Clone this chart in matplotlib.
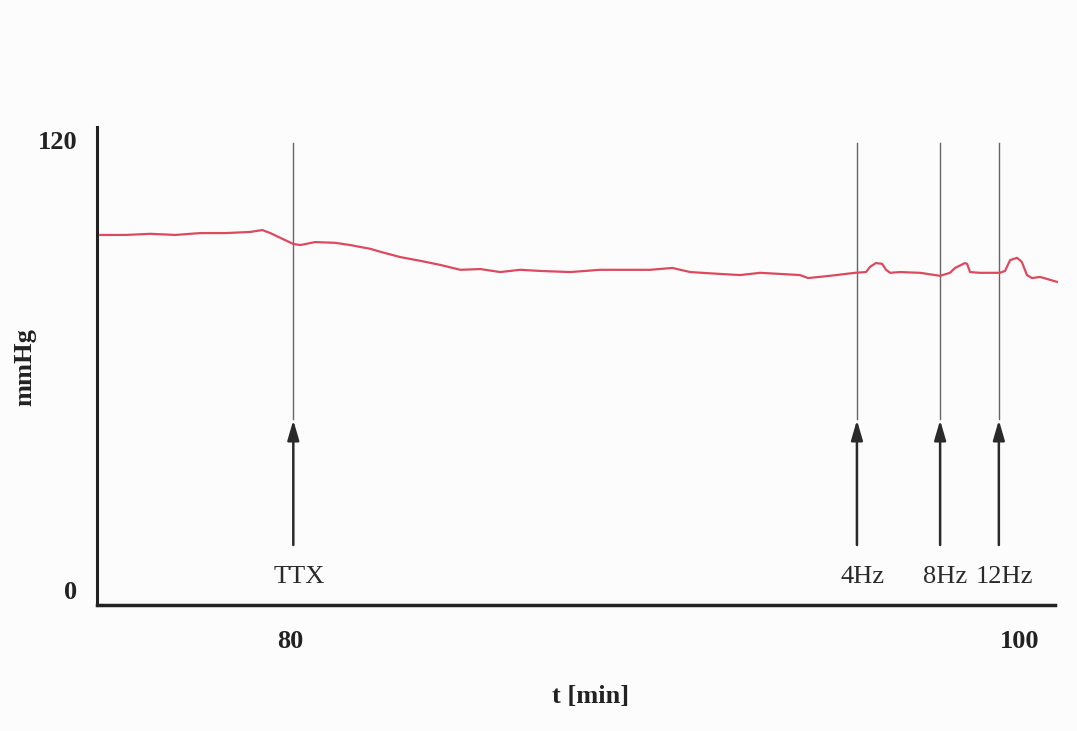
import matplotlib.pyplot as plt

# pressure trace (t in min, pressure in mmHg)
t = [74.79, 75.48, 76.16, 76.85, 77.53, 78.22, 78.90, 79.23, 79.45, 79.73,
     80.08, 80.27, 80.68, 81.23, 81.64, 82.19, 82.47, 83.01, 83.56, 84.11,
     84.66, 85.21, 85.75, 86.30, 86.85, 87.67, 88.49, 89.86, 90.47, 90.96,
     91.78, 92.33, 92.88, 93.97, 94.19, 94.79, 95.48, 95.78, 95.89, 96.05,
     96.22, 96.33, 96.44, 96.71, 97.26, 97.81, 98.08, 98.22, 98.49, 98.55,
     98.63, 98.90, 99.45, 99.59, 99.73, 99.92, 100.05, 100.19, 100.33, 100.55,
     101.01]
p = [94.7, 94.7, 95.0, 94.7, 95.2, 95.2, 95.5, 96.0, 95.2, 93.9,
     92.3, 92.0, 92.8, 92.6, 92.0, 91.0, 90.2, 88.8, 87.8, 86.7,
     85.4, 85.6, 84.8, 85.4, 85.1, 84.8, 85.4, 85.4, 85.9, 84.8,
     84.3, 84.0, 84.6, 84.0, 83.2, 83.8, 84.6, 84.8, 86.2, 87.2,
     87.0, 85.4, 84.6, 84.8, 84.6, 83.8, 84.6, 85.9, 87.2, 87.0,
     84.8, 84.6, 84.6, 85.1, 88.0, 88.6, 87.5, 84.0, 83.2, 83.5,
     82.2]

# stimulus markers
ev_t = [80.08, 95.53, 97.81, 99.42]
ev_lab = ['TTX', '4Hz', '8Hz', '12Hz']

fig = plt.figure(figsize=(10.77, 7.31), dpi=100, facecolor='#fcfcfc')
ax = fig.add_axes([0.0901, 0.1724, 0.8895, 0.6539], facecolor='#fcfcfc')

ax.plot(t, p, color='#dc4a60', lw=1.6, clip_on=False, zorder=3)

for x, lab in zip(ev_t, ev_lab):
    ax.plot([x, x], [45.5, 119.2], color='#666666', lw=1.0, zorder=2)
    ax.annotate('', xy=(x, 45.3), xytext=(x, 12.0),
                arrowprops=dict(arrowstyle='-|>,head_length=1.2,head_width=0.35',
                                lw=1.8, color='#2a2a2a', shrinkA=0, shrinkB=0))
    ax.text(x + 0.15, 3.5, lab, ha='center', va='center', fontsize=19,
            family='Liberation Serif', color='#2a2a2a')

ax.set_xlim(74.7, 100.96)
ax.set_ylim(-4, 123.5)
ax.set_xticks([80, 100])
ax.set_yticks([0, 120])
ax.set_xticklabels(['80', '100'], family='Liberation Serif', fontweight='bold',
                   fontsize=19, color='#222222')
ax.set_yticklabels(['0', '120'], family='Liberation Serif', fontweight='bold',
                   fontsize=19, color='#222222')
ax.tick_params(axis='x', length=0, pad=18)
ax.tick_params(axis='y', length=0, pad=14)

for s in ['top', 'right']:
    ax.spines[s].set_visible(False)
ax.spines['left'].set_linewidth(2.2)
ax.spines['bottom'].set_linewidth(2.5)
ax.spines['left'].set_color('#222222')
ax.spines['bottom'].set_color('#222222')

fig.text(0.548, 0.047, 't [min]', ha='center', va='center',
         family='Liberation Serif', fontweight='bold', fontsize=19, color='#222222')
fig.text(0.023, 0.498, 'mmHg', rotation=90, ha='center', va='center',
         family='Liberation Serif', fontweight='bold', fontsize=19, color='#222222')

fig.savefig('out.png', dpi=100, facecolor=fig.get_facecolor())
